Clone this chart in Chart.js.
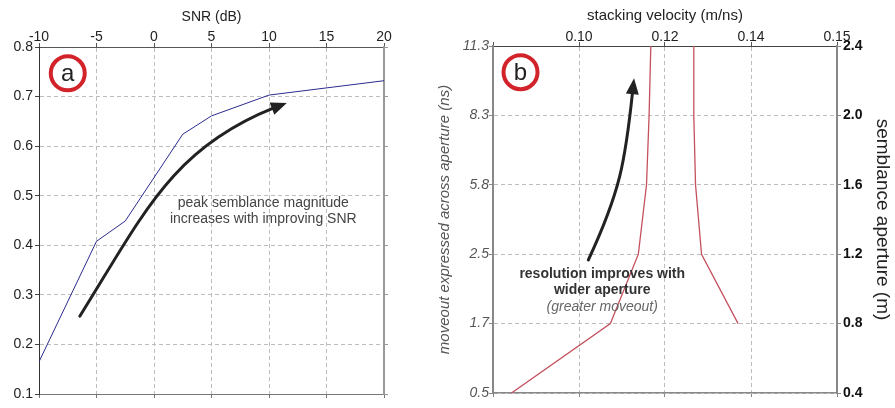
<!DOCTYPE html>
<html>
<head>
<meta charset="utf-8">
<script src="https://cdn.jsdelivr.net/npm/chart.js@4.4.1/dist/chart.umd.min.js"></script>
<style>
  html, body { margin: 0; padding: 0; background: #fff; }
  #wrap { position: relative; width: 895px; height: 408px; overflow: hidden; }
  canvas { position: absolute; top: 0; }
  #chartA { left: 0; }
  #chartB { left: 420px; }
</style>
</head>
<body>
<div id="wrap">
  <canvas id="chartA" width="420" height="408"></canvas>
  <canvas id="chartB" width="475" height="408"></canvas>
</div>
<script>
// ---- panel a: peak semblance vs SNR ----
const snrDb = [-10, -5, -2.5, 2.5, 5, 10, 20];
const peakSemblance = [0.165, 0.408, 0.449, 0.624, 0.661, 0.703, 0.732];
const snrTicks = [-10, -5, 0, 5, 10, 15, 20];
const semblanceTicks = [0.1, 0.2, 0.3, 0.4, 0.5, 0.6, 0.7, 0.8];
// curved arrow in data units: start, control 1, control 2, head base, tip
const arrowA = [[-6.45, 0.257], [-0.91, 0.4625], [1.52, 0.5946], [10.42, 0.677], [11.55, 0.687]];

// ---- panel b: velocity resolution vs aperture ----
const apertureM = [0.4, 0.8, 1.2, 1.6, 2.0, 2.4];
const moveoutLabels = ['0.5', '1.7', '2.5', '5.8', '8.3', '11.3'];
const velLeft = [0.0843, 0.1073, 0.1138, 0.1157, 0.1163, 0.1167];
const velRight = [null, 0.1370, 0.1285, 0.1271, 0.1267, 0.1267];
const velTicks = [0.08, 0.10, 0.12, 0.14, 0.16];
const velTickLabels = ['', '0.10', '0.12', '0.14', '0.15'];
const arrowB = [[0.10217, 1.1666], [0.10956, 1.5586], [0.11075, 1.7321], [0.11245, 2.1338], [0.1128, 2.2139]];

const FONT = "'Liberation Sans', Arial, sans-serif";

function pts(xs, ys) {
  return xs.map((x, i) => ({ x: x, y: ys[i] })).filter(p => p.x !== null && p.y !== null);
}

const decor = {
  id: 'decor',
  afterDatasetsDraw(chart, args, opts) {
    const ctx = chart.ctx;
    const xs = chart.scales.x, ys = chart.scales.y;
    const px = p => [xs.getPixelForValue(p[0]), ys.getPixelForValue(p[1])];
    ctx.save();
    // curved arrows
    (opts.arrows || []).forEach(a => {
      const [p0, c1, c2, b, t] = a.map(px);
      ctx.strokeStyle = '#222';
      ctx.lineWidth = 3;
      ctx.lineCap = 'round';
      ctx.beginPath();
      ctx.moveTo(p0[0], p0[1]);
      ctx.bezierCurveTo(c1[0], c1[1], c2[0], c2[1], b[0], b[1]);
      ctx.stroke();
      const dx = t[0] - b[0], dy = t[1] - b[1], len = Math.hypot(dx, dy);
      const nx = -dy / len, ny = dx / len, w = 6.5;
      const sx = b[0] - dx / len * 2, sy = b[1] - dy / len * 2;
      ctx.fillStyle = '#222';
      ctx.beginPath();
      ctx.moveTo(t[0], t[1]);
      ctx.lineTo(sx + nx * w, sy + ny * w);
      ctx.lineTo(sx - nx * w, sy - ny * w);
      ctx.closePath();
      ctx.fill();
    });
    // red circle label
    if (opts.badge) {
      const c = px([opts.badge.x, opts.badge.y]);
      ctx.strokeStyle = '#d2232a';
      ctx.lineWidth = 4;
      ctx.beginPath();
      ctx.arc(c[0], c[1], 17, 0, Math.PI * 2);
      ctx.stroke();
      ctx.fillStyle = '#222';
      ctx.font = '24px ' + FONT;
      ctx.textAlign = 'center';
      ctx.textBaseline = 'middle';
      ctx.fillText(opts.badge.text, c[0], c[1] + 1);
    }
    // annotation text
    (opts.notes || []).forEach(n => {
      const c = px([n.x, n.y]);
      let cy = c[1];
      n.lines.forEach(l => {
        ctx.font = l.font;
        ctx.fillStyle = l.color;
        ctx.textAlign = 'center';
        ctx.textBaseline = 'middle';
        ctx.fillText(l.text, c[0], cy);
        cy += n.lineHeight;
      });
    });
    ctx.restore();
  }
};

function setTicks(list) {
  return scale => { scale.ticks = list.map(v => ({ value: v })); };
}

// ---------------- chart a ----------------
new Chart(document.getElementById('chartA'), {
  type: 'scatter',
  data: {
    datasets: [
      {
        data: pts(snrDb, peakSemblance),
        showLine: true, borderColor: '#2b2b8c', borderWidth: 1, pointRadius: 0, tension: 0
      }
    ]
  },
  options: {
    responsive: false,
    animation: false,
    layout: { padding: { left: 0, right: 0, top: 0, bottom: 9 } },
    plugins: {
      legend: { display: false },
      tooltip: { enabled: false },
      decor: {
        arrows: [arrowA],
        badge: { x: -7.5, y: 0.747, text: 'a' },
        notes: [{
          x: 9.5, y: 0.486, lineHeight: 16.5,
          lines: [
            { text: 'peak semblance magnitude', font: '14px ' + FONT, color: '#444' },
            { text: 'increases with improving SNR', font: '14px ' + FONT, color: '#444' }
          ]
        }]
      }
    },
    scales: {
      x: {
        type: 'linear', position: 'top', min: -10, max: 20,
        afterBuildTicks: setTicks(snrTicks),
        afterFit: s => { s.height = 47; },
        ticks: { font: { family: FONT, size: 14 }, color: '#222', padding: -3, maxRotation: 0 },
        grid: { color: '#bdbdbd', tickColor: '#555', tickLength: 4 },
        border: { color: '#555', width: 1, dash: [4, 3] },
        title: { display: true, text: 'SNR (dB)', font: { family: FONT, size: 14 }, color: '#222', padding: { top: 9, bottom: 0 } }
      },
      xb: {
        type: 'linear', position: 'bottom', min: -10, max: 20,
        afterBuildTicks: setTicks(snrTicks),
        afterFit: s => { s.height = 5; },
        ticks: { display: false },
        grid: { drawOnChartArea: false, tickColor: '#777', tickLength: 4 },
        border: { color: '#777', width: 1 }
      },
      y: {
        type: 'linear', position: 'left', min: 0.1, max: 0.8,
        afterBuildTicks: setTicks(semblanceTicks),
        afterFit: s => { s.width = 39; },
        ticks: { font: { family: FONT, size: 14 }, color: '#222', padding: 2, callback: v => v.toFixed(1) },
        grid: { color: '#bdbdbd', tickColor: '#444', tickLength: 4 },
        border: { color: '#333', width: 1, dash: [4, 3] }
      },
      yr: {
        type: 'linear', position: 'right', min: 0.1, max: 0.8,
        afterBuildTicks: setTicks(semblanceTicks),
        afterFit: s => { s.width = 36; },
        ticks: { display: false },
        grid: { drawOnChartArea: false, tickColor: '#999', tickLength: 4 },
        border: { color: '#999', width: 2 }
      }
    }
  },
  plugins: [decor]
});

// ---------------- chart b ----------------
new Chart(document.getElementById('chartB'), {
  type: 'scatter',
  data: {
    datasets: [
      {
        data: pts(velLeft, apertureM),
        showLine: true, borderColor: '#c4515e', borderWidth: 1.3, pointRadius: 0, tension: 0
      },
      {
        data: pts(velRight, apertureM),
        showLine: true, borderColor: '#c4515e', borderWidth: 1.3, pointRadius: 0, tension: 0
      }
    ]
  },
  options: {
    responsive: false,
    animation: false,
    layout: { padding: { left: 0, right: 0, top: 0, bottom: 10 } },
    plugins: {
      legend: { display: false },
      tooltip: { enabled: false },
      decor: {
        arrows: [arrowB],
        badge: { x: 0.0864, y: 2.249, text: 'b' },
        notes: [{
          x: 0.1054, y: 1.086, lineHeight: 16.5,
          lines: [
            { text: 'resolution improves with', font: 'bold 14px ' + FONT, color: '#333' },
            { text: 'wider aperture', font: 'bold 14px ' + FONT, color: '#333' },
            { text: '(greater moveout)', font: 'italic 14px ' + FONT, color: '#666' }
          ]
        }]
      }
    },
    scales: {
      x: {
        type: 'linear', position: 'top', min: 0.08, max: 0.16,
        afterBuildTicks: setTicks(velTicks),
        afterFit: s => { s.height = 46; },
        ticks: {
          font: { family: FONT, size: 14 }, color: '#222', padding: -4, maxRotation: 0,
          callback: (v, i) => velTickLabels[i]
        },
        grid: { color: '#bdbdbd', tickColor: '#555', tickLength: 4 },
        border: { color: '#444', width: 1, dash: [4, 3] },
        title: { display: true, text: 'stacking velocity (m/ns)', font: { family: FONT, size: 15 }, color: '#222', padding: { top: 7, bottom: 0 } }
      },
      xb: {
        type: 'linear', position: 'bottom', min: 0.08, max: 0.16,
        afterBuildTicks: setTicks(velTicks),
        afterFit: s => { s.height = 5; },
        ticks: { display: false },
        grid: { drawOnChartArea: false, tickColor: '#888', tickLength: 4 },
        border: { color: '#888', width: 1.5 }
      },
      y: {
        type: 'linear', position: 'left', min: 0.4, max: 2.4,
        afterBuildTicks: setTicks(apertureM),
        afterFit: s => { s.width = 73; },
        ticks: {
          font: { family: FONT, size: 14, style: 'italic' }, color: '#555', padding: 0,
          callback: (v, i) => moveoutLabels[i]
        },
        grid: { color: '#bdbdbd', tickColor: '#888', tickLength: 4 },
        border: { color: '#888', width: 2, dash: [4, 3] },
        title: { display: true, text: 'moveout expressed across aperture (ns)', font: { family: FONT, size: 15, style: 'italic' }, color: '#555', padding: { top: 16, bottom: 0 } }
      },
      yr: {
        type: 'linear', position: 'right', min: 0.4, max: 2.4,
        afterBuildTicks: setTicks(apertureM),
        afterFit: s => { s.width = 58; },
        ticks: { font: { family: FONT, size: 14, weight: 'bold' }, color: '#111', padding: 2, callback: v => v.toFixed(1) },
        grid: { drawOnChartArea: false, tickColor: '#888', tickLength: 4 },
        border: { color: '#888', width: 2 },
        title: { display: true, text: 'semblance aperture (m)', font: { family: FONT, size: 19 }, color: '#222', padding: { top: 1, bottom: 0 } }
      }
    }
  },
  plugins: [decor]
});
</script>
</body>
</html>
